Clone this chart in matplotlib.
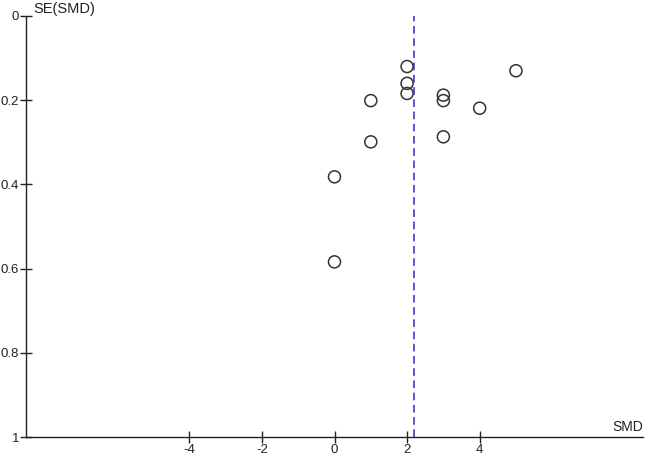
import matplotlib
matplotlib.use("Agg")
import matplotlib.pyplot as plt

smd = [2.0, 2.0, 2.0, 1.0, 1.0, 0.0, 0.0, 3.0, 3.0, 3.0, 4.0, 5.0]
se = [0.12, 0.16, 0.184, 0.201, 0.299, 0.382, 0.584, 0.188, 0.201, 0.287, 0.219, 0.13]
pooled = 2.2
xticks = [-4, -2, 0, 2, 4]
yticks = [0, 0.2, 0.4, 0.6, 0.8, 1]
ytick_labels = ["0", "0.2", "0.4", "0.6", "0.8", "1"]

plt.rcParams['font.family'] = ['Liberation Sans', 'DejaVu Sans']

fig = plt.figure(figsize=(6.45, 4.58), dpi=100)
W, H = 645, 458
ax = fig.add_axes([26 / W, 21 / H, (643 - 26) / W, (437 - 16) / H])

ax.scatter(smd, se, s=75, facecolors='none', edgecolors='#333333', linewidths=1.1, zorder=3)
ax.axvline(pooled, color='#2a2ad0', linestyle=(0, (5, 3)), linewidth=1.1)

ax.set_xlim(-8.5, 8.5)
ax.set_ylim(1, 0)
ax.set_xticks(xticks)
ax.set_xticklabels([str(t) for t in xticks])
ax.set_yticks(yticks)
ax.set_yticklabels(ytick_labels)

for s in ['top', 'right']:
    ax.spines[s].set_visible(False)
for s in ['left', 'bottom']:
    ax.spines[s].set_color('#222222')
    ax.spines[s].set_linewidth(1.0)

ax.tick_params(axis='both', direction='inout', length=8, width=1.0, colors='#222222',
               labelsize=9.5, pad=0.8)

fig.text(33 / W, 1 - 9 / H, "SE(SMD)", fontsize=10.5, va='center', ha='left', color='#222222')
fig.text(643 / W, 1 - 427 / H, "SMD", fontsize=10, va='center', ha='right', color='#222222')

fig.savefig("out.png", dpi=100)
